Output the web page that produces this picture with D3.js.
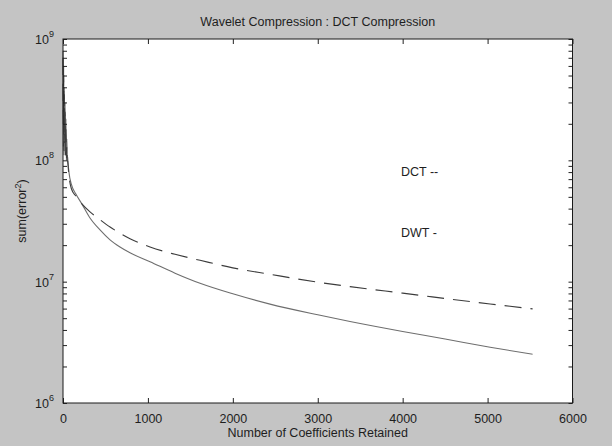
<!DOCTYPE html>
<html>
<head>
<meta charset="utf-8">
<script src="https://cdn.jsdelivr.net/npm/d3@7/dist/d3.min.js"></script>
<style>
  html, body { margin: 0; padding: 0; background: #c4c4c4; }
  svg { display: block; }
  text { font-family: "Liberation Sans", Arial, sans-serif; fill: #1e1e1e; }
</style>
</head>
<body>
<script>
// ---- data ----
const titleText = "Wavelet Compression : DCT Compression";
const xLabelText = "Number of Coefficients Retained";
const xTicks = [0, 1000, 2000, 3000, 4000, 5000, 6000];
const yDecades = [1e6, 1e7, 1e8, 1e9];
const yExponents = ["6", "7", "8", "9"];
const legendLabels = ["DCT --", "DWT -"];

// DCT (dashed)
const dctX = [0, 4, 8, 12, 16, 20, 25, 30, 35, 40, 45, 50, 55, 60, 70, 100, 150, 220, 318, 436, 554, 671, 789, 1025, 1319, 1614, 2000, 2438, 3000, 3380, 4000, 5030, 5530];
const dctY = [7e8, 2e8, 5e8, 1.2e8, 3.5e8, 1.4e8, 2.5e8, 1.1e8, 1.8e8, 1.05e8, 1.3e8, 1.0e8, 9.8e7, 9e7, 7.5e7, 5.8e7, 5.1e7, 4.4e7, 3.76e7, 3.24e7, 2.82e7, 2.51e7, 2.26e7, 1.93e7, 1.68e7, 1.50e7, 1.30e7, 1.15e7, 9.9e6, 9.1e6, 8.04e6, 6.55e6, 5.97e6];

// DWT (solid)
const dwtX = [0, 4, 8, 12, 16, 20, 25, 30, 35, 40, 45, 50, 55, 60, 70, 100, 150, 220, 318, 436, 554, 671, 789, 1025, 1319, 1614, 2000, 2438, 3000, 3380, 4000, 4500, 5030, 5530];
const dwtY = [8e8, 1.3e8, 6e8, 1.1e8, 4e8, 1.6e8, 3e8, 1.2e8, 2.2e8, 1.0e8, 1.5e8, 1.1e8, 1.05e8, 9.5e7, 8e7, 6.3e7, 5.3e7, 4.4e7, 3.35e7, 2.67e7, 2.21e7, 1.93e7, 1.73e7, 1.46e7, 1.175e7, 9.7e6, 7.94e6, 6.53e6, 5.33e6, 4.70e6, 3.89e6, 3.37e6, 2.88e6, 2.52e6];

// ---- layout ----
const W = 612, H = 446;
const L = 63, R = 572.5, T = 39, B = 403;

const svg = d3.select("body").append("svg").attr("width", W).attr("height", H);
svg.append("rect").attr("width", W).attr("height", H).attr("fill", "#c4c4c4");

const x = d3.scaleLinear().domain([0, 6000]).range([L, R]);
const y = d3.scaleLog().domain([1e6, 1e9]).range([B, T]);

// plot area
svg.append("rect").attr("x", L).attr("y", T).attr("width", R - L).attr("height", B - T)
  .attr("fill", "#ffffff");

// lines
const line = d3.line().x(d => x(d[0])).y(d => y(d[1])).curve(d3.curveMonotoneX);
const dctData = dctX.map((v, i) => [v, dctY[i]]);
const dwtData = dwtX.map((v, i) => [v, dwtY[i]]);

svg.append("path").datum(dwtData).attr("d", line)
  .attr("fill", "none").attr("stroke", "#6e6e6e").attr("stroke-width", 1.1);
svg.append("path").datum(dctData).attr("d", line)
  .attr("fill", "none").attr("stroke", "#3c3c3c").attr("stroke-width", 1.1)
  .attr("stroke-dasharray", "17,9");

// axes (ticks inward)
const gB = svg.append("g").attr("transform", `translate(0,${B})`)
  .call(d3.axisBottom(x).tickValues(xTicks).tickSize(-5).tickPadding(11).tickFormat(d3.format("d")));
const gT = svg.append("g").attr("transform", `translate(0,${T})`)
  .call(d3.axisTop(x).tickValues(xTicks).tickSize(-5).tickFormat(""));

const allY = y.ticks();
const gL = svg.append("g").attr("transform", `translate(${L},0)`)
  .call(d3.axisLeft(y).tickValues(allY).tickSize(-4).tickFormat(""));
const gR = svg.append("g").attr("transform", `translate(${R},0)`)
  .call(d3.axisRight(y).tickValues(allY).tickSize(-4).tickFormat(""));

[gB, gT, gL, gR].forEach(g => {
  g.select(".domain").remove();
  g.selectAll("line").attr("stroke", "#222");
  g.selectAll("text").attr("font-size", 12.5).attr("fill", "#1e1e1e")
    .style("font-family", "'Liberation Sans', Arial, sans-serif");
});

// frame
svg.append("rect").attr("x", L).attr("y", T).attr("width", R - L).attr("height", B - T)
  .attr("fill", "none").attr("stroke", "#1a1a1a").attr("stroke-width", 1);

// y tick labels 10^n
yDecades.forEach((v, i) => {
  const t = svg.append("text").attr("x", 54).attr("y", y(v) + 5)
    .attr("text-anchor", "end").attr("font-size", 12.5);
  t.append("tspan").text("10");
  t.append("tspan").attr("dy", -7).attr("font-size", 9).text(yExponents[i]);
});

// title
svg.append("text").attr("x", (L + R) / 2).attr("y", 26).attr("text-anchor", "middle")
  .attr("font-size", 12.5).text(titleText);

// x label
svg.append("text").attr("x", (L + R) / 2).attr("y", 437).attr("text-anchor", "middle")
  .attr("font-size", 12.5).text(xLabelText);

// y label
const yl = svg.append("text").attr("transform", `translate(26,${(T + B) / 2 - 10}) rotate(-90)`)
  .attr("text-anchor", "middle").attr("font-size", 12.5);
yl.append("tspan").text("sum(error");
yl.append("tspan").attr("dy", -5).attr("font-size", 9).text("2");
yl.append("tspan").attr("dy", 5).text(")");

// in-plot legend text
svg.append("text").attr("x", 401).attr("y", 176).attr("font-size", 12.5).attr("fill", "#333").text(legendLabels[0]);
svg.append("text").attr("x", 401).attr("y", 237).attr("font-size", 12.5).attr("fill", "#333").text(legendLabels[1]);
</script>
</body>
</html>
